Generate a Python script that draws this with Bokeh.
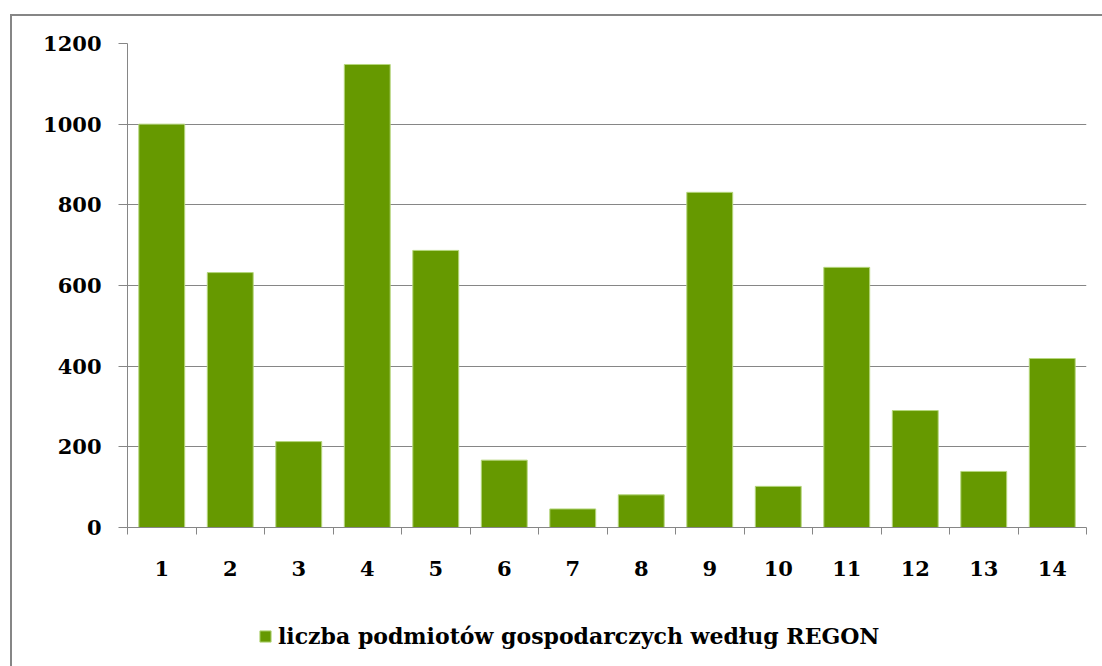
from bokeh.plotting import figure
from bokeh.layouts import column
from bokeh.models import ColumnDataSource, FixedTicker, Legend, LegendItem, Range1d
from bokeh.embed import file_html
from bokeh.resources import INLINE

categories = [str(i) for i in range(1, 15)]
values = [1000, 632, 213, 1148, 687, 167, 46, 81, 831, 102, 645, 290, 139, 419]
series_name = "liczba podmiotów gospodarczych według REGON"
y_ticks = [0, 200, 400, 600, 800, 1000, 1200]

xs = list(range(1, len(categories) + 1))
src = ColumnDataSource(dict(x=xs, top=values))

FONT = "DejaVu Serif"
GREY = "#868686"
BAR = dict(width=0.67, fill_color="#669900", line_color="#b5d67c", line_width=1)

p = figure(width=1090, height=571, output_backend="svg", toolbar_location=None,
           x_range=Range1d(0.5, len(categories) + 0.5), y_range=Range1d(0, 1200),
           min_border_left=115, min_border_right=16, min_border_top=27, min_border_bottom=60)
p.outline_line_color = None
p.background_fill_color = "white"
p.border_fill_color = "white"

p.vbar(x="x", top="top", source=src, **BAR)

# x axis
xa = p.xaxis[0]
xa.ticker = FixedTicker(ticks=xs, minor_ticks=[i + 0.5 for i in range(0, len(categories) + 1)])
xa.major_label_overrides = {i: c for i, c in zip(xs, categories)}
xa.major_tick_line_color = None
xa.major_tick_out = 0
xa.minor_tick_out = 7
xa.minor_tick_in = 0
xa.minor_tick_line_color = GREY
xa.axis_line_color = GREY
xa.major_label_text_font = FONT
xa.major_label_text_font_style = "bold"
xa.major_label_text_font_size = "21px"
xa.major_label_text_color = "#000000"
xa.major_label_standoff = 26

# y axis
ya = p.yaxis[0]
ya.ticker = FixedTicker(ticks=y_ticks)
ya.minor_tick_line_color = None
ya.major_tick_out = 9
ya.major_tick_in = 0
ya.major_tick_line_color = GREY
ya.axis_line_color = GREY
ya.major_label_text_font = FONT
ya.major_label_text_font_style = "bold"
ya.major_label_text_font_size = "21px"
ya.major_label_text_color = "#000000"
ya.major_label_standoff = 17

p.xgrid.grid_line_color = None
p.ygrid.grid_line_color = GREY
p.ygrid.grid_line_width = 1

# legend strip (same series, drawn through a figure whose view holds no bars)
pl = figure(width=1090, height=79, output_backend="svg", toolbar_location=None,
            x_range=Range1d(0.5, len(categories) + 0.5), y_range=Range1d(5000, 6000),
            min_border_left=0, min_border_right=0, min_border_top=0, min_border_bottom=0)
pl.axis.visible = False
pl.grid.visible = False
pl.outline_line_color = None
rl = pl.vbar(x="x", top="top", source=src, **BAR)

legend = Legend(items=[LegendItem(label=series_name, renderers=[rl])],
                location=(131, 17), orientation="horizontal",
                label_text_font=FONT, label_text_font_style="bold",
                label_text_font_size="22px", label_text_color="#000000",
                glyph_width=14, glyph_height=14, label_standoff=6,
                border_line_color=None, background_fill_alpha=0, padding=0, margin=0)
pl.add_layout(legend, "center")

layout = column(p, pl, spacing=0)
layout.margin = (14, 0, 0, 10)
layout.styles = {"border-left": "2px solid #868686", "border-top": "2px solid #868686"}

open("out.html", "w").write(file_html(layout, INLINE))
